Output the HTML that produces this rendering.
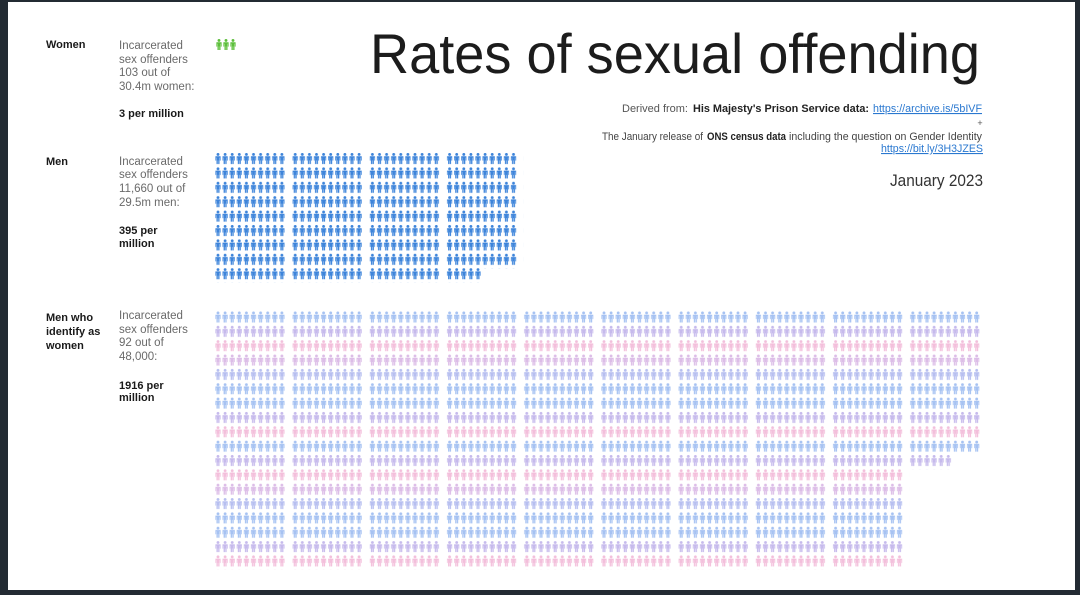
<!DOCTYPE html>
<html>
<head>
<meta charset="utf-8">
<style>
html,body{margin:0;padding:0;background:#232b33;}
svg{display:block;}
text{font-family:"Liberation Sans",sans-serif;}
</style>
</head>
<body>
<svg width="1080" height="595" viewBox="0 0 1080 595" xmlns="http://www.w3.org/2000/svg">
<defs>
  <g id="p">
    <circle cx="3" cy="1.4" r="1.45"/>
    <path d="M0.4,3.2 H5.6 V7.6 H4.8 V4.6 H4.5 V11 H3.2 V7.4 H2.8 V11 H1.5 V4.6 H1.2 V7.6 H0.4 Z"/>
  </g>
  <g id="row">
    <use href="#p" x="0"/><use href="#p" x="7.1"/><use href="#p" x="14.2"/><use href="#p" x="21.3"/><use href="#p" x="28.4"/>
    <use href="#p" x="35.5"/><use href="#p" x="42.6"/><use href="#p" x="49.7"/><use href="#p" x="56.8"/><use href="#p" x="63.9"/>
  </g>
  <pattern id="pm" patternUnits="userSpaceOnUse" x="215" y="153" width="77.2" height="14.4">
    <use href="#row" fill="#3d84da"/>
  </pattern>
  <pattern id="pb" patternUnits="userSpaceOnUse" x="215" y="311.5" width="77.2" height="14.35">
    <use href="#row" fill="#a6c2f2"/>
  </pattern>
  <pattern id="pl" patternUnits="userSpaceOnUse" x="215" y="311.5" width="77.2" height="14.35">
    <use href="#row" fill="#c6baec"/>
  </pattern>
  <pattern id="pk" patternUnits="userSpaceOnUse" x="215" y="311.5" width="77.2" height="14.35">
    <use href="#row" fill="#f3bfdb"/>
  </pattern>
  <pattern id="pq" patternUnits="userSpaceOnUse" x="215" y="311.5" width="77.2" height="14.35">
    <use href="#row" fill="#dcbde7"/>
  </pattern>
  <pattern id="pr" patternUnits="userSpaceOnUse" x="215" y="311.5" width="77.2" height="14.35">
    <use href="#row" fill="#b7bff0"/>
  </pattern>
</defs>

<!-- frame -->
<rect x="0" y="0" width="1080" height="595" fill="#232b33"/>
<rect x="8" y="2" width="1067" height="588" fill="#ffffff"/>

<!-- Title -->
<text x="370" y="73" font-size="56" textLength="610" lengthAdjust="spacingAndGlyphs" fill="#1c1c1c">Rates of sexual offending</text>

<!-- Source lines -->
<text x="622" y="112" font-size="11" fill="#555" textLength="66" lengthAdjust="spacingAndGlyphs">Derived from:</text>
<text x="693" y="112" font-size="11" font-weight="bold" fill="#222" textLength="176" lengthAdjust="spacingAndGlyphs">His Majesty's Prison Service data:</text>
<text x="873" y="112" font-size="11" fill="#2a78d0" text-decoration="underline" textLength="109" lengthAdjust="spacingAndGlyphs">https://archive.is/5bIVF</text>
<text x="980" y="126" font-size="9" fill="#555" text-anchor="middle">+</text>
<text x="602" y="140" font-size="11" fill="#444" textLength="101" lengthAdjust="spacingAndGlyphs">The January release of</text>
<text x="707" y="140" font-size="11" font-weight="bold" fill="#222" textLength="79" lengthAdjust="spacingAndGlyphs">ONS census data</text>
<text x="789" y="140" font-size="11" fill="#444" textLength="193" lengthAdjust="spacingAndGlyphs">including the question on Gender Identity</text>
<text x="881" y="152" font-size="11" fill="#2a78d0" text-decoration="underline" textLength="102" lengthAdjust="spacingAndGlyphs">https://bit.ly/3H3JZES</text>
<text x="890" y="186" font-size="17" fill="#333" textLength="93" lengthAdjust="spacingAndGlyphs">January 2023</text>

<!-- Women -->
<text x="46" y="48" font-size="11" font-weight="bold" fill="#1a1a1a">Women</text>
<g font-size="11.5" fill="#6a6a6a">
  <text x="119" y="49">Incarcerated</text>
  <text x="119" y="63">sex offenders</text>
  <text x="119" y="76">103 out of</text>
  <text x="119" y="90">30.4m women:</text>
</g>
<text x="119" y="117" font-size="11" font-weight="bold" fill="#1a1a1a">3 per million</text>
<g fill="#5cbf3a">
  <use href="#p" x="216" y="39"/>
  <use href="#p" x="223" y="39"/>
  <use href="#p" x="230" y="39"/>
</g>

<!-- Men -->
<text x="46" y="165" font-size="11" font-weight="bold" fill="#1a1a1a">Men</text>
<g font-size="11.5" fill="#6a6a6a">
  <text x="119" y="165">Incarcerated</text>
  <text x="119" y="178">sex offenders</text>
  <text x="119" y="192">11,660 out of</text>
  <text x="119" y="206">29.5m men:</text>
</g>
<text x="119" y="234" font-size="11" font-weight="bold" fill="#1a1a1a">395 per</text>
<text x="119" y="247" font-size="11" font-weight="bold" fill="#1a1a1a">million</text>
<rect x="215" y="153" width="308.8" height="115.2" fill="url(#pm)"/>
<rect x="215" y="268.2" width="267.1" height="14.4" fill="url(#pm)"/>

<!-- Men who identify as women -->
<text x="46" y="321" font-size="11" font-weight="bold" fill="#1a1a1a">Men who</text>
<text x="46" y="335" font-size="11" font-weight="bold" fill="#1a1a1a">identify as</text>
<text x="46" y="349" font-size="11" font-weight="bold" fill="#1a1a1a">women</text>
<g font-size="11.5" fill="#6a6a6a">
  <text x="119" y="319">Incarcerated</text>
  <text x="119" y="333">sex offenders</text>
  <text x="119" y="346">92 out of</text>
  <text x="119" y="360">48,000:</text>
</g>
<text x="119" y="389" font-size="11" font-weight="bold" fill="#1a1a1a">1916 per</text>
<text x="119" y="401" font-size="11" font-weight="bold" fill="#1a1a1a">million</text>

<rect x="215" y="311.5" width="772" height="14.35" fill="url(#pb)"/>
<rect x="215" y="325.85" width="772" height="14.35" fill="url(#pl)"/>
<rect x="215" y="340.2" width="772" height="14.35" fill="url(#pk)"/>
<rect x="215" y="354.55" width="772" height="14.35" fill="url(#pq)"/>
<rect x="215" y="368.9" width="772" height="14.35" fill="url(#pr)"/>
<rect x="215" y="383.25" width="772" height="14.35" fill="url(#pb)"/>
<rect x="215" y="397.6" width="772" height="14.35" fill="url(#pb)"/>
<rect x="215" y="411.95" width="772" height="14.35" fill="url(#pl)"/>
<rect x="215" y="426.3" width="772" height="14.35" fill="url(#pk)"/>
<rect x="215" y="440.65" width="772" height="14.35" fill="url(#pb)"/>
<rect x="215" y="455" width="737.4" height="14.35" fill="url(#pl)"/>
<rect x="215" y="469.35" width="694.8" height="14.35" fill="url(#pk)"/>
<rect x="215" y="483.7" width="694.8" height="14.35" fill="url(#pq)"/>
<rect x="215" y="498.05" width="694.8" height="14.35" fill="url(#pr)"/>
<rect x="215" y="512.4" width="694.8" height="14.35" fill="url(#pb)"/>
<rect x="215" y="526.75" width="694.8" height="14.35" fill="url(#pb)"/>
<rect x="215" y="541.1" width="694.8" height="14.35" fill="url(#pl)"/>
<rect x="215" y="555.45" width="694.8" height="14.35" fill="url(#pk)"/>
</svg>
</body>
</html>
